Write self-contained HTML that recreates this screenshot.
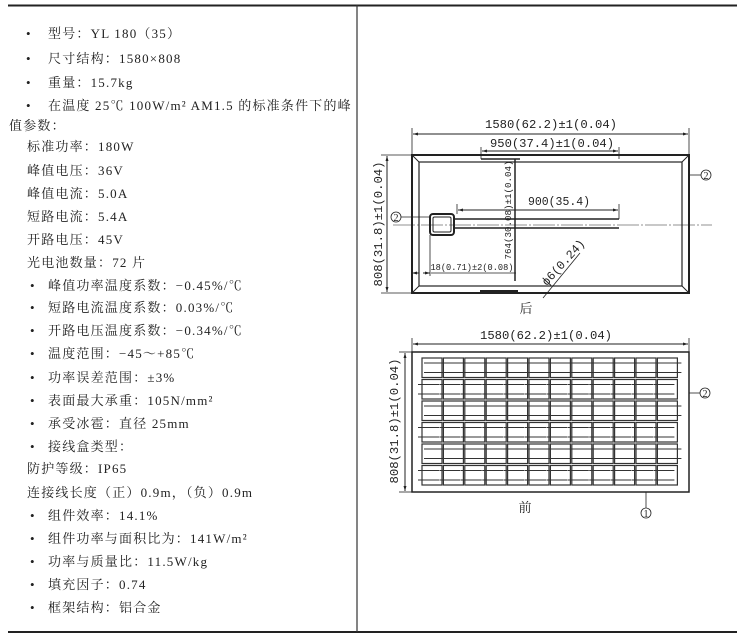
<!DOCTYPE html>
<html><head><meta charset="utf-8"><style>
html,body{margin:0;padding:0;background:#fff;}
svg{display:block;}
.t{font-family:"Liberation Serif","Noto Serif CJK SC",serif;font-size:13px;fill:#222;letter-spacing:1.2px;}
.d{font-family:"Liberation Mono","Noto Serif CJK SC",monospace;font-size:12px;fill:#222;}
.c{font-family:"Liberation Serif","Noto Serif CJK SC",serif;fill:#222;}
</style></head><body>
<svg width="737" height="642" viewBox="0 0 737 642" xmlns="http://www.w3.org/2000/svg">
<defs>
<marker id="a" viewBox="0 0 10 10" refX="10" refY="5" markerWidth="7" markerHeight="5" orient="auto-start-reverse"><path d="M0,2 L10,5 L0,8 z" fill="#222"/></marker>
<g id="c1"><rect x="0" y="0" width="20" height="19.5" fill="none" stroke="#333" stroke-width="1.2"/><line x1="2" y1="5" x2="24" y2="5" stroke="#333"/><line x1="2" y1="14.5" x2="24" y2="14.5" stroke="#333"/></g>
<g id="c2"><rect x="0" y="0" width="20" height="19.5" fill="none" stroke="#333" stroke-width="1.2"/><line x1="-4" y1="5" x2="17" y2="5" stroke="#333"/><line x1="-4" y1="14.5" x2="17" y2="14.5" stroke="#333"/></g>
<g id="r1"><use href="#c1" x="0"/><use href="#c1" x="21.4"/><use href="#c1" x="42.8"/><use href="#c1" x="64.2"/><use href="#c1" x="85.6"/><use href="#c1" x="107"/><use href="#c1" x="128.4"/><use href="#c1" x="149.8"/><use href="#c1" x="171.2"/><use href="#c1" x="192.6"/><use href="#c1" x="214"/><use href="#c1" x="235.4"/></g>
<g id="r2"><use href="#c2" x="0"/><use href="#c2" x="21.4"/><use href="#c2" x="42.8"/><use href="#c2" x="64.2"/><use href="#c2" x="85.6"/><use href="#c2" x="107"/><use href="#c2" x="128.4"/><use href="#c2" x="149.8"/><use href="#c2" x="171.2"/><use href="#c2" x="192.6"/><use href="#c2" x="214"/><use href="#c2" x="235.4"/></g>
</defs>
<line x1="8" y1="5.5" x2="737" y2="5.5" stroke="#222" stroke-width="2"/>
<line x1="8" y1="632" x2="737" y2="632" stroke="#222" stroke-width="2"/>
<line x1="357" y1="5" x2="357" y2="632" stroke="#333" stroke-width="1.2"/>

<g class="t">
<text x="26" y="38">•</text><text x="48" y="38">型号：YL 180（35）</text>
<text x="26" y="63">•</text><text x="48" y="63">尺寸结构：1580×808</text>
<text x="26" y="87">•</text><text x="48" y="87">重量：15.7kg</text>
<text x="26" y="110">•</text><text x="48" y="110">在温度 25℃ 100W/m² AM1.5 的标准条件下的峰</text>
<text x="9" y="130">值参数：</text>
<text x="27" y="151">标准功率：180W</text>
<text x="27" y="175">峰值电压：36V</text>
<text x="27" y="198">峰值电流：5.0A</text>
<text x="27" y="221">短路电流：5.4A</text>
<text x="27" y="244">开路电压：45V</text>
<text x="27" y="267">光电池数量：72 片</text>
<text x="30" y="290">•</text><text x="48" y="290">峰值功率温度系数：−0.45%/℃</text>
<text x="30" y="312">•</text><text x="48" y="312">短路电流温度系数：0.03%/℃</text>
<text x="30" y="335">•</text><text x="48" y="335">开路电压温度系数：−0.34%/℃</text>
<text x="30" y="358">•</text><text x="48" y="358">温度范围：−45～+85℃</text>
<text x="30" y="382">•</text><text x="48" y="382">功率误差范围：±3%</text>
<text x="30" y="405">•</text><text x="48" y="405">表面最大承重：105N/mm²</text>
<text x="30" y="428">•</text><text x="48" y="428">承受冰雹：直径 25mm</text>
<text x="30" y="451">•</text><text x="48" y="451">接线盒类型：</text>
<text x="27" y="473">防护等级：IP65</text>
<text x="27" y="497">连接线长度（正）0.9m，（负）0.9m</text>
<text x="30" y="520">•</text><text x="48" y="520">组件效率：14.1%</text>
<text x="30" y="543">•</text><text x="48" y="543">组件功率与面积比为：141W/m²</text>
<text x="30" y="566">•</text><text x="48" y="566">功率与质量比：11.5W/kg</text>
<text x="30" y="589">•</text><text x="48" y="589">填充因子：0.74</text>
<text x="30" y="612">•</text><text x="48" y="612">框架结构：铝合金</text>
</g>

<g stroke="#222" fill="none">
<rect x="412" y="155" width="277" height="138" stroke-width="2"/>
<rect x="419" y="162" width="263" height="124" stroke-width="1.2"/>
<line x1="412" y1="155" x2="419" y2="162"/><line x1="689" y1="155" x2="682" y2="162"/>
<line x1="412" y1="293" x2="419" y2="286"/><line x1="689" y1="293" x2="682" y2="286"/>
<line x1="412" y1="128" x2="412" y2="155" stroke-width="0.8"/><line x1="689" y1="128" x2="689" y2="155" stroke-width="0.8"/>
<line x1="413" y1="134" x2="688" y2="134" marker-start="url(#a)" marker-end="url(#a)"/>
<line x1="481" y1="147" x2="481" y2="159" stroke-width="0.8"/><line x1="619" y1="147" x2="619" y2="159" stroke-width="0.8"/>
<line x1="482" y1="151" x2="618" y2="151" marker-start="url(#a)" marker-end="url(#a)"/>
<line x1="481" y1="159" x2="520" y2="159" stroke-width="1.5"/>
<line x1="515" y1="159" x2="515" y2="281" stroke-width="1.5"/>
<line x1="381" y1="155" x2="412" y2="155" stroke-width="0.8"/><line x1="381" y1="293" x2="412" y2="293" stroke-width="0.8"/>
<line x1="387" y1="156" x2="387" y2="292" marker-start="url(#a)" marker-end="url(#a)"/>
<rect x="430" y="214" width="24" height="21" rx="3" stroke-width="2"/>
<rect x="433" y="217" width="18" height="15" rx="1.5" stroke-width="1"/>
<line x1="454" y1="219" x2="619" y2="219" stroke-width="1.5"/>
<line x1="454" y1="228" x2="619" y2="228" stroke-width="1.5"/>
<line x1="393" y1="225" x2="712" y2="225" stroke-width="0.6" stroke-dasharray="22,2,2,2"/>
<line x1="457" y1="204" x2="457" y2="214" stroke-width="0.8"/><line x1="619" y1="204" x2="619" y2="219" stroke-width="0.8"/>
<line x1="458" y1="210" x2="618" y2="210" marker-start="url(#a)" marker-end="url(#a)"/>
<line x1="401" y1="217" x2="430" y2="217" stroke-width="0.8"/>
<circle cx="396" cy="217" r="5" stroke-width="0.8"/>
<line x1="689" y1="175" x2="701" y2="175" stroke-width="0.8"/>
<circle cx="706" cy="175" r="5" stroke-width="0.8"/>
<line x1="430" y1="235" x2="430" y2="276" stroke-width="0.8"/>
<line x1="419" y1="273" x2="412" y2="273" marker-end="url(#a)"/>
<line x1="423" y1="273" x2="430" y2="273" marker-end="url(#a)"/>
<line x1="431" y1="273" x2="516" y2="273" stroke-width="0.8"/>
<line x1="480" y1="291" x2="518" y2="291" stroke-width="2"/>
<line x1="543" y1="298" x2="580" y2="253" stroke-width="0.8"/>
</g>
<g class="d">
<text x="551" y="128" text-anchor="middle" textLength="132" lengthAdjust="spacingAndGlyphs">1580(62.2)±1(0.04)</text>
<text x="552" y="147" text-anchor="middle" textLength="124" lengthAdjust="spacingAndGlyphs">950(37.4)±1(0.04)</text>
<text x="559" y="205" text-anchor="middle" textLength="62" lengthAdjust="spacingAndGlyphs">900(35.4)</text>
<text x="472" y="270" text-anchor="middle" font-size="9" textLength="83" lengthAdjust="spacingAndGlyphs">18(0.71)±2(0.08)</text>
<text transform="translate(511,210) rotate(-90)" text-anchor="middle" font-size="9.5" textLength="99" lengthAdjust="spacingAndGlyphs">764(30.08)±1(0.04)</text>
<text transform="translate(382,224) rotate(-90)" text-anchor="middle" textLength="125" lengthAdjust="spacingAndGlyphs">808(31.8)±1(0.04)</text>
<text transform="translate(566,265) rotate(-48)" text-anchor="middle" font-size="12">ϕ6(0.24)</text>
</g>
<g class="c">
<text x="526" y="313" text-anchor="middle" font-size="13">后</text>
<text x="396" y="221" text-anchor="middle" font-size="10">2</text>
<text x="706" y="179" text-anchor="middle" font-size="10">2</text>
</g>

<g stroke="#222" fill="none">
<line x1="412" y1="338" x2="412" y2="352" stroke-width="0.8"/><line x1="689" y1="338" x2="689" y2="352" stroke-width="0.8"/>
<line x1="413" y1="344" x2="688" y2="344" marker-start="url(#a)" marker-end="url(#a)"/>
<rect x="412" y="352" width="277" height="140" stroke-width="1.5"/>
<line x1="399" y1="352" x2="412" y2="352" stroke-width="0.8"/><line x1="399" y1="492" x2="412" y2="492" stroke-width="0.8"/>
<line x1="405" y1="353" x2="405" y2="491" marker-start="url(#a)" marker-end="url(#a)"/>
<line x1="689" y1="393" x2="700" y2="393" stroke-width="0.8"/>
<circle cx="705" cy="393" r="5" stroke-width="0.8"/>
<line x1="646" y1="492" x2="646" y2="508" stroke-width="0.8"/>
<circle cx="646" cy="513" r="5" stroke-width="0.8"/>
</g>
<use href="#r1" x="422" y="358"/>
<use href="#r2" x="422" y="379.5"/>
<use href="#r1" x="422" y="401"/>
<use href="#r2" x="422" y="422.5"/>
<use href="#r1" x="422" y="444"/>
<use href="#r2" x="422" y="465.5"/>
<g class="d">
<text x="546" y="339" text-anchor="middle" textLength="132" lengthAdjust="spacingAndGlyphs">1580(62.2)±1(0.04)</text>
<text transform="translate(398,421) rotate(-90)" text-anchor="middle" textLength="125" lengthAdjust="spacingAndGlyphs">808(31.8)±1(0.04)</text>
</g>
<g class="c">
<text x="525" y="512" text-anchor="middle" font-size="13">前</text>
<text x="705" y="397" text-anchor="middle" font-size="10">2</text>
<text x="646" y="517" text-anchor="middle" font-size="10">1</text>
</g>
</svg>
</body></html>
